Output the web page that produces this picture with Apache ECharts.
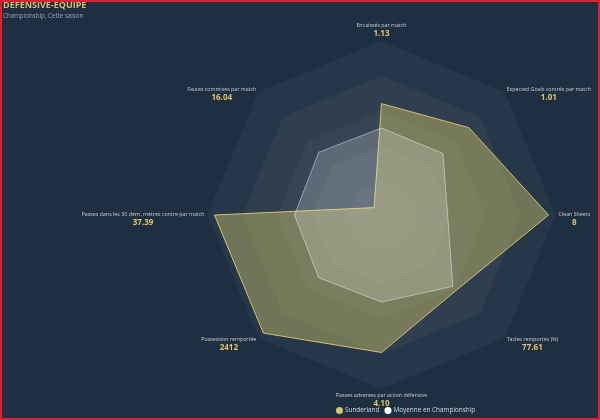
<!DOCTYPE html>
<html><head><meta charset="utf-8">
<script src="https://cdn.jsdelivr.net/npm/echarts@6/dist/echarts.min.js"></script>
<style>html,body{margin:0;padding:0;background:#1e2f42;}#c{width:600px;height:420px;}</style>
</head><body><div id="c"></div>
<script>
// Indicators in ECharts order (counter-clockwise from top)
const indicatorNames = [
  'Encaissés par match',
  'Fautes commises par match',
  'Passes dans les 30 dern. mètres contre par match',
  'Possession remportée',
  'Passes adverses par action défensive',
  'Tacles remportés (%)',
  'Clean Sheets',
  'Expected Goals contrés par match'
];
const displayValues = ['1.13', '16.04', '37.39', '2412', '4.10', '77.61', '8', '1.01'];
const sunderlandScores = [64, 6, 96, 96, 79, 61, 96, 71];
const averageScores = [50, 51, 50, 51, 50, 58, 38, 50];
const seriesNames = ['Sunderland', 'Moyenne en Championship'];

const chart = echarts.init(document.getElementById('c'));
const FONT = '"Open Sans", sans-serif';
chart.setOption({
  backgroundColor: '#1e2f42',
  animation: false,
  title: {
    text: 'DEFENSIVE-EQUIPE',
    subtext: 'Championship, Cette saison',
    left: 3, top: 1, padding: 0,
    itemGap: 3,
    textStyle: { color: '#d6bd6b', fontSize: 9, fontWeight: 'bold', fontFamily: FONT },
    subtextStyle: { color: '#9aa4b2', fontSize: 6.2, fontFamily: FONT }
  },
  legend: {
    top: 407, left: 336, padding: 0,
    itemWidth: 7, itemHeight: 7, itemGap: 5,
    icon: 'circle',
    textStyle: { color: '#d4d8e0', fontSize: 6.4, fontFamily: FONT, padding: [0,0,0,-3] },
    data: seriesNames
  },
  graphic: [{
    type: 'rect', silent: true, z: 100,
    shape: { x: 1, y: 1, width: 598, height: 418 },
    style: { fill: 'none', stroke: '#e0202f', lineWidth: 2 }
  }],
  radar: {
    center: [381.5, 215],
    radius: 174,
    startAngle: 90,
    splitNumber: 5,
    shape: 'polygon',
    nameGap: 3,
    indicator: indicatorNames.map(n => ({ name: n, max: 100, min: 0 })),
    axisName: {
      formatter: function (name) {
        const i = indicatorNames.indexOf(name);
        const sideways = (i !== 0 && i !== 4);
        return (sideways ? '{sp| }\n' : '') + '{n|' + name + '}\n{v|' + displayValues[i] + '}';
      },
      rich: {
        sp: { fontSize: 5, lineHeight: 8 },
        n: { color: '#c9cdd5', fontSize: 5.3, fontFamily: FONT, align: 'center', lineHeight: 7 },
        v: { color: '#e2c46a', fontSize: 8, fontWeight: 'bold', fontFamily: FONT, align: 'center', lineHeight: 9 }
      }
    },
    axisLine: { show: false },
    splitLine: { show: false },
    splitArea: {
      show: true,
      areaStyle: {
        color: [
          'rgba(255,255,255,0.17)',
          'rgba(255,255,255,0.14)',
          'rgba(255,255,255,0.11)',
          'rgba(255,255,255,0.08)',
          'rgba(255,255,255,0.045)'
        ]
      }
    }
  },
  series: [{
    type: 'radar',
    symbol: 'none',
    data: [
      {
        name: seriesNames[0],
        value: sunderlandScores,
        itemStyle: { color: '#d8c46c' },
        lineStyle: { color: '#d4c06c', width: 1 },
        areaStyle: { color: 'rgba(218,202,104,0.6)' }
      },
      {
        name: seriesNames[1],
        value: averageScores,
        itemStyle: { color: '#ffffff' },
        lineStyle: { color: 'rgba(255,255,255,0.45)', width: 1 },
        areaStyle: { color: 'rgba(255,255,255,0.28)' }
      }
    ]
  }]
});
</script></body></html>
